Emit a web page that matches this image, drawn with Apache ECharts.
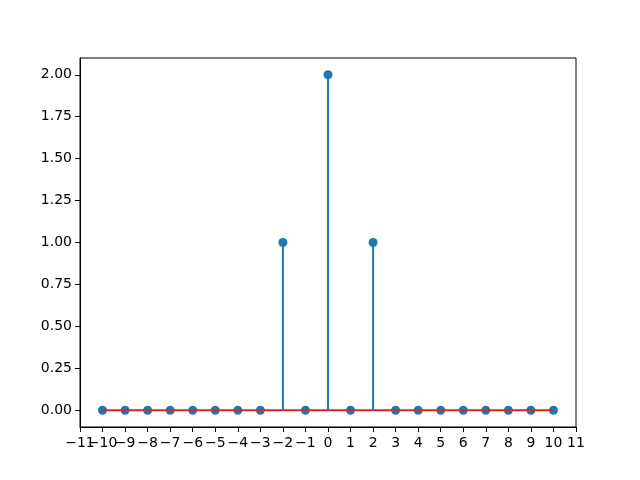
<!DOCTYPE html>
<html><head><meta charset="utf-8">
<script src="https://cdn.jsdelivr.net/npm/echarts@6/dist/echarts.min.js"></script>
<style>html,body{margin:0;padding:0;background:#fff}#c{width:640px;height:480px}</style>
</head><body><div id="c"></div>
<script>
var xValues = [-10,-9,-8,-7,-6,-5,-4,-3,-2,-1,0,1,2,3,4,5,6,7,8,9,10];
var yValues = [0,0,0,0,0,0,0,0,1,0,2,0,1,0,0,0,0,0,0,0,0];
var yTicks = [0,0.25,0.5,0.75,1,1.25,1.5,1.75,2];
var xTicksOdd = [-11,-9,-7,-5,-3,-1,1,3,5,7,9,11];
var xTicksEven = [-10,-8,-6,-4,-2,0,2,4,6,8,10];
var baseline = [[-10,0],[10,0]];

var pts = xValues.map(function(x,i){return [x,yValues[i]];});
var font = 'DejaVu Sans';
function fmtX(v){ return v < 0 ? '\u2212' + Math.abs(v) : String(v); }
function xLabel(vals){
  return {color:'#000',fontFamily:font,fontSize:14,margin:9,formatter:fmtX,
    customValues:vals,hideOverlap:false,showMinLabel:true,showMaxLabel:true};
}

var chart = echarts.init(document.getElementById('c'), null, {renderer:'canvas'});
chart.setOption({
  animation:false,
  backgroundColor:'#fff',
  grid:{left:80,right:64,top:58,bottom:53,show:true,borderColor:'#000',borderWidth:1,containLabel:false},
  xAxis:[
    {type:'value',min:-11,max:11,interval:1,position:'bottom',
     axisLine:{show:true,onZero:false,lineStyle:{color:'#000',width:1}},
     axisTick:{show:true,inside:false,length:5,lineStyle:{color:'#000'}},
     axisLabel:xLabel(xTicksOdd),
     splitLine:{show:false}},
    {type:'value',min:-11,max:11,interval:1,position:'bottom',offset:0,
     axisLine:{show:false,onZero:false},
     axisTick:{show:false},
     axisLabel:xLabel(xTicksEven),
     splitLine:{show:false}}
  ],
  yAxis:{type:'value',min:-0.1,max:2.1,
    axisLine:{show:true,onZero:false,lineStyle:{color:'#000',width:1}},
    axisTick:{show:true,inside:false,length:5,lineStyle:{color:'#000'},customValues:yTicks},
    axisLabel:{color:'#000',fontFamily:font,fontSize:14,margin:8,customValues:yTicks,
      formatter:function(v){return v.toFixed(2);}},
    splitLine:{show:false}},
  series:[
    {type:'custom',data:pts,z:2,silent:true,
     renderItem:function(params,api){
       var x=api.value(0), y=api.value(1);
       var p0=api.coord([x,0]), p1=api.coord([x,y]);
       return {type:'line',shape:{x1:p0[0],y1:p0[1],x2:p1[0],y2:p1[1]},
         style:{stroke:'#1f77b4',lineWidth:2}};
     }},
    {type:'scatter',data:pts,z:3,symbol:'circle',symbolSize:9,
     itemStyle:{color:'#1f77b4',opacity:1},silent:true},
    {type:'line',data:baseline,z:4,symbol:'none',silent:true,
     lineStyle:{color:'#d62728',width:2}}
  ]
});
</script></body></html>
